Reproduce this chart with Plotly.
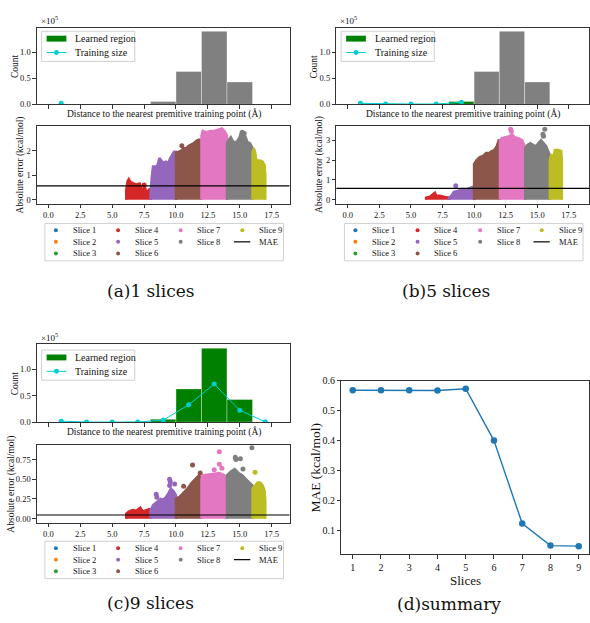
import plotly.graph_objects as go

W, H = 590, 623
SERIF = "Liberation Serif, Times New Roman, serif"
CAPTION_FONT = "DejaVu Serif, serif"
INK = "#111111"
SPINE = "#333333"

# ---------------- data ----------------
SLICE_NAMES = ["Slice 1", "Slice 2", "Slice 3", "Slice 4", "Slice 5",
               "Slice 6", "Slice 7", "Slice 8", "Slice 9"]
SLICE_COLORS = ["#1f77b4", "#ff7f0e", "#2ca02c", "#d62728", "#9467bd",
                "#8c564b", "#e377c2", "#7f7f7f", "#bcbd22"]

# summary: MAE of each model trained on the first k slices
SLICES = [1, 2, 3, 4, 5, 6, 7, 8, 9]
MAE = [0.569, 0.569, 0.569, 0.568, 0.574, 0.400, 0.122, 0.048, 0.046]

# distance histogram (bins of 2 Å, one per slice)
BIN_CENTERS = [1, 3, 5, 7, 9, 11, 13, 15, 17]
BIN_WIDTH = 2
BIN_COUNTS = [0, 0, 0, 600, 5600, 63000, 140000, 43000, 0]

# training-set size per slice for the 1-, 5- and 9-slice models
TRAIN_SIZE_1 = [2000]
TRAIN_SIZE_5 = [2000, 700, 700, 700, 4000]
TRAIN_SIZE_9 = [2000, 300, 300, 300, 4000, 33000, 72000, 22500, 700]

X_TICKS = [0.0, 2.5, 5.0, 7.5, 10.0, 12.5, 15.0, 17.5]

# upper envelope (distance, absolute error) of each slice's error cloud
ERR_TOP_1 = {
    4: [(6.1, 0.4), (6.2, 0.75), (6.3, 0.84), (6.45, 0.72), (6.65, 0.66), (6.9, 0.62),
        (7.15, 0.66), (7.3, 0.45), (7.4, 0.25), (7.5, 0.55), (7.6, 0.45), (7.7, 0.2),
        (7.8, 0.35), (7.95, 0.45), (8.05, 0.3)],
    5: [(8.0, 0.2), (8.1, 0.9), (8.2, 1.35), (8.4, 1.35), (8.55, 1.4), (8.7, 1.7),
        (8.85, 1.6), (9.0, 1.5), (9.2, 1.55), (9.4, 1.5), (9.55, 1.7), (9.7, 1.8),
        (9.85, 1.95), (10.0, 1.95)],
    6: [(10.0, 1.9), (10.2, 1.95), (10.4, 2.0), (10.6, 2.1), (10.8, 2.1), (11.0, 2.2),
        (11.2, 2.25), (11.4, 2.3), (11.6, 2.4), (11.8, 2.45), (12.0, 2.4)],
    7: [(12.0, 2.6), (12.1, 2.8), (12.4, 2.75), (12.7, 2.8), (13.0, 2.8), (13.3, 2.85),
        (13.6, 2.9), (13.8, 2.8), (14.0, 2.6)],
    8: [(14.0, 2.3), (14.15, 2.45), (14.3, 2.55), (14.5, 2.35), (14.75, 2.35), (14.95, 2.5),
        (15.1, 2.75), (15.3, 2.75), (15.45, 2.5), (15.6, 2.35), (15.8, 2.3), (16.0, 2.1)],
    9: [(16.0, 1.9), (16.1, 2.1), (16.2, 1.95), (16.3, 1.6), (16.6, 1.6), (16.8, 1.55),
        (16.95, 1.4), (17.0, 1.0)],
}
ERR_TOP_5 = {
    4: [(6.2, 0.1), (6.5, 0.15), (6.8, 0.3), (6.9, 0.35), (7.0, 0.2), (7.3, 0.2),
        (7.6, 0.15), (7.9, 0.12), (8.05, 0.1)],
    5: [(8.0, 0.1), (8.2, 0.2), (8.4, 0.4), (8.7, 0.45), (8.9, 0.5), (9.1, 0.55),
        (9.3, 0.45), (9.5, 0.55), (9.7, 0.6), (9.9, 0.65), (10.0, 0.4)],
    6: [(10.0, 1.8), (10.2, 2.0), (10.45, 2.15), (10.7, 2.2), (10.95, 2.35), (11.2, 2.35),
        (11.4, 2.45), (11.6, 2.5), (11.8, 2.7), (11.95, 3.0), (12.05, 3.0)],
    7: [(12.05, 3.0), (12.2, 3.1), (12.5, 3.15), (12.8, 3.2), (13.0, 3.3), (13.2, 3.15),
        (13.5, 3.1), (13.8, 3.0), (14.0, 2.7)],
    8: [(14.05, 2.6), (14.2, 2.75), (14.45, 2.85), (14.7, 2.75), (14.9, 2.7), (15.1, 2.85),
        (15.3, 3.0), (15.5, 2.85), (15.7, 2.7), (15.9, 2.4), (16.0, 2.2)],
    9: [(16.0, 2.0), (16.1, 2.25), (16.3, 2.2), (16.4, 2.5), (16.7, 2.5), (16.9, 2.45),
        (16.95, 2.0)],
}
ERR_TOP_9 = {
    4: [(6.1, 0.06), (6.3, 0.09), (6.6, 0.11), (6.9, 0.1), (7.2, 0.14), (7.4, 0.09),
        (7.6, 0.1), (7.9, 0.12), (8.05, 0.1)],
    5: [(8.0, 0.1), (8.2, 0.17), (8.4, 0.2), (8.6, 0.22), (8.8, 0.25), (9.0, 0.24),
        (9.2, 0.27), (9.4, 0.32), (9.6, 0.38), (9.8, 0.35), (10.0, 0.3)],
    6: [(10.0, 0.25), (10.3, 0.28), (10.6, 0.33), (10.9, 0.38), (11.2, 0.45), (11.5, 0.5),
        (11.8, 0.55), (12.0, 0.5)],
    7: [(12.0, 0.5), (12.1, 0.55), (12.5, 0.56), (13.0, 0.57), (13.4, 0.58), (13.8, 0.55),
        (14.0, 0.5)],
    8: [(14.0, 0.55), (14.3, 0.6), (14.6, 0.63), (14.9, 0.58), (15.2, 0.55), (15.5, 0.5),
        (15.8, 0.45), (16.0, 0.42)],
    9: [(16.0, 0.38), (16.2, 0.42), (16.4, 0.46), (16.6, 0.46), (16.8, 0.42), (16.95, 0.35),
        (17.0, 0.2)],
}

# isolated large-error points above the clouds
ERR_OUT_1 = {4: [(7.5, 0.6)], 6: [(10.46, 2.2)], 8: [(15.2, 2.75), (15.35, 2.7)]}
ERR_OUT_5 = {5: [(8.55, 0.7)], 7: [(12.9, 3.55), (12.95, 3.45)],
             8: [(15.5, 3.2), (15.6, 3.55), (15.45, 3.3)]}
ERR_OUT_9 = {5: [(8.45, 0.31), (8.5, 0.27), (9.5, 0.5), (9.55, 0.47), (9.5, 0.42), (9.9, 0.44)],
             6: [(11.3, 0.68), (10.6, 0.41), (11.9, 0.58)],
             7: [(13.4, 0.85), (13.4, 0.69), (13.6, 0.64), (13.0, 0.62)],
             8: [(14.65, 0.78), (14.7, 0.75), (15.05, 0.76), (15.95, 0.9), (15.25, 0.63)],
             9: [(16.2, 0.59)]}


# ---------------- helpers ----------------
def px(x):
    return x / W


def py(y):
    return 1 - y / H


def ann(text, x, y, size, angle=0, xanchor="center", family=SERIF):
    return dict(text=text, x=px(x), y=py(y), xref="paper", yref="paper",
                showarrow=False, textangle=angle, xanchor=xanchor, yanchor="middle",
                font=dict(family=family, size=size, color=INK))


def axis_style(**kw):
    d = dict(showline=True, mirror=True, linecolor=SPINE, linewidth=1,
             ticks="outside", ticklen=3.5, tickwidth=1, tickcolor=SPINE,
             showgrid=False, zeroline=False,
             tickfont=dict(family=SERIF, size=8.5, color=INK))
    d.update(kw)
    return d


fig = go.Figure()
shapes = []
annotations = []
layout_axes = {}

# panel geometry in pixels
PANELS = [
    dict(n=1, train=TRAIN_SIZE_1, env=ERR_TOP_1, out=ERR_OUT_1, ax=(1, 2),
         x0=37, x1=290, hy=(23, 101), sy=(123, 202), xr=18.9, yr=[-0.16, 3.0],
         yticks=[0, 1, 2], yfmt="{:.0f}", ylab_x=20.7, dx=0, dy=0),
    dict(n=5, train=TRAIN_SIZE_5, env=ERR_TOP_5, out=ERR_OUT_5, ax=(3, 4),
         x0=337, x1=590, hy=(23, 101), sy=(123, 202), xr=19.1, yr=[-0.2, 3.71],
         yticks=[0, 1, 2, 3], yfmt="{:.0f}", ylab_x=320.7, dx=300, dy=0),
    dict(n=9, train=TRAIN_SIZE_9, env=ERR_TOP_9, out=ERR_OUT_9, ax=(5, 6),
         x0=37, x1=290, hy=(345, 424), sy=(447, 526), xr=18.9, yr=[-0.05, 0.9375],
         yticks=[0, 0.25, 0.5, 0.75], yfmt="{:.2f}", ylab_x=12, dx=0, dy=323),
]

for p in PANELS:
    ha, sa = p["ax"]
    hx, hy_ = f"x{ha}", f"y{ha}"
    sx, sy_ = f"x{sa}", f"y{sa}"
    n = p["n"]

    # histogram: learned bins in green, remaining bins in gray
    bar_colors = ["green" if i < n else "gray" for i in range(len(BIN_CENTERS))]
    fig.add_trace(go.Bar(x=BIN_CENTERS, y=BIN_COUNTS, width=BIN_WIDTH,
                         marker=dict(color=bar_colors,
                                     line=dict(color="rgba(255,255,255,0.45)", width=0.8)),
                         xaxis=hx, yaxis=hy_, showlegend=False))
    fig.add_trace(go.Scatter(x=BIN_CENTERS[:len(p["train"])], y=p["train"],
                             mode="lines+markers",
                             line=dict(color="#00CED1", width=1),
                             marker=dict(color="#00CED1", size=5),
                             xaxis=hx, yaxis=hy_, showlegend=False))

    # error clouds per slice
    for s, pts in p["env"].items():
        col = SLICE_COLORS[s - 1]
        xs = [pts[0][0]] + [q[0] for q in pts] + [pts[-1][0]]
        ys = [0] + [q[1] for q in pts] + [0]
        fig.add_trace(go.Scatter(x=xs, y=ys, mode="lines", fill="toself",
                                 fillcolor=col, line=dict(color=col, width=2.5),
                                 xaxis=sx, yaxis=sy_, showlegend=False))
    for s, pts in p["out"].items():
        col = SLICE_COLORS[s - 1]
        fig.add_trace(go.Scatter(x=[q[0] for q in pts], y=[q[1] for q in pts],
                                 mode="markers", marker=dict(color=col, size=5),
                                 xaxis=sx, yaxis=sy_, showlegend=False))

    # MAE reference line
    shapes.append(dict(type="line", xref=f"{sx} domain", x0=0, x1=1,
                       yref=sy_, y0=MAE[n - 1], y1=MAE[n - 1],
                       line=dict(color="black", width=1.2)))

    xdom = [px(p["x0"]), min(1.0, px(p["x1"]))]
    layout_axes[f"xaxis{ha}"] = axis_style(domain=xdom, range=[-0.9, p["xr"]],
                                           anchor=hy_, tickvals=X_TICKS,
                                           showticklabels=False)
    layout_axes[f"yaxis{ha}"] = axis_style(domain=[py(p["hy"][1]), py(p["hy"][0])],
                                           range=[0, 147000], anchor=hx,
                                           tickvals=[0, 50000, 100000],
                                           ticktext=["0.0", "0.5", "1.0"])
    layout_axes[f"xaxis{sa}"] = axis_style(domain=xdom, range=[-0.9, p["xr"]],
                                           anchor=sy_, tickvals=X_TICKS,
                                           ticktext=[f"{v:.1f}" for v in X_TICKS])
    layout_axes[f"yaxis{sa}"] = axis_style(domain=[py(p["sy"][1]), py(p["sy"][0])],
                                           range=p["yr"], anchor=sx,
                                           tickvals=p["yticks"],
                                           ticktext=[p["yfmt"].format(v) for v in p["yticks"]])

    # axis titles and offset text
    annotations.append(ann("×10<sup>5</sup>", p["x0"] + 2, p["hy"][0] - 8, 9, xanchor="left"))
    annotations.append(ann("Count", p["dx"] + 15, (p["hy"][0] + p["hy"][1]) / 2, 9.5, angle=-90))
    annotations.append(ann("Distance to the nearest premitive training point (Å)",
                           p["dx"] + 164, p["hy"][1] + 10, 9.5))
    annotations.append(ann("Absolute error (kcal/mol)", p["ylab_x"],
                           (p["sy"][0] + p["sy"][1]) / 2, 9.5, angle=-90))

    # histogram legend (upper left)
    dx, dy = p["dx"], p["dy"] + (1 if n == 9 else 0)
    shapes.append(dict(type="rect", xref="paper", yref="paper",
                       x0=px(dx + 41.7), x1=px(dx + 135), y0=py(dy + 57.3), y1=py(dy + 26.7),
                       line=dict(color="#d0d0d0", width=1), fillcolor="rgba(255,255,255,0.8)"))
    shapes.append(dict(type="rect", xref="paper", yref="paper",
                       x0=px(dx + 46.7), x1=px(dx + 66.5), y0=py(dy + 37.2), y1=py(dy + 31.2),
                       line=dict(width=0), fillcolor="green"))
    shapes.append(dict(type="line", xref="paper", yref="paper",
                       x0=px(dx + 46.7), x1=px(dx + 66.5), y0=py(dy + 48.3), y1=py(dy + 48.3),
                       line=dict(color="#00CED1", width=1)))
    shapes.append(dict(type="circle", xref="paper", yref="paper",
                       x0=px(dx + 56.6 - 2.5), x1=px(dx + 56.6 + 2.5),
                       y0=py(dy + 48.3 + 2.5), y1=py(dy + 48.3 - 2.5),
                       line=dict(width=0), fillcolor="#00CED1"))
    annotations.append(ann("Learned region", dx + 73.3, dy + 34.3, 10, xanchor="left"))
    annotations.append(ann("Training size", dx + 73.3, dy + 48.3, 10, xanchor="left"))

    # slice legend below the scatter (column-major, 4 columns)
    ly = p["dy"]
    shapes.append(dict(type="rect", xref="paper", yref="paper",
                       x0=px(dx + 45), x1=px(dx + 284), y0=py(ly + 260), y1=py(ly + 222),
                       line=dict(color="#d0d0d0", width=1), fillcolor="white"))
    col_marker_x = [56, 118.3, 181, 242.7]
    col_text_x = [70.7, 133, 195.7, 257.7]
    row_y = [229, 240.7, 252.5]
    columns = [[0, 1, 2], [3, 4, 5], [6, 7], [8, "MAE"]]
    for ci, col_items in enumerate(columns):
        for ri, item in enumerate(col_items):
            cx, cy = dx + col_marker_x[ci], ly + row_y[ri]
            if item == "MAE":
                shapes.append(dict(type="line", xref="paper", yref="paper",
                                   x0=px(dx + 234.3), x1=px(dx + 250.7), y0=py(cy), y1=py(cy),
                                   line=dict(color="black", width=1.2)))
                label = "MAE"
            else:
                shapes.append(dict(type="circle", xref="paper", yref="paper",
                                   x0=px(cx - 2), x1=px(cx + 2), y0=py(cy + 2), y1=py(cy - 2),
                                   line=dict(width=0), fillcolor=SLICE_COLORS[item]))
                label = SLICE_NAMES[item]
            annotations.append(ann(label, dx + col_text_x[ci], cy, 8.5, xanchor="left"))

# ---------------- summary panel ----------------
fig.add_trace(go.Scatter(x=SLICES, y=MAE, mode="lines+markers",
                         line=dict(color="#1f77b4", width=1.4),
                         marker=dict(color="#1f77b4", size=6.5),
                         xaxis="x7", yaxis="y7", showlegend=False))
layout_axes["xaxis7"] = axis_style(domain=[px(342), 1.0], range=[0.6, 9.364], anchor="y7",
                                   tickvals=SLICES, tickfont=dict(family=SERIF, size=10, color=INK))
layout_axes["yaxis7"] = axis_style(domain=[py(558), py(382)], range=[0.0196, 0.6004], anchor="x7",
                                   tickvals=[0.1, 0.2, 0.3, 0.4, 0.5, 0.6], tickformat=".1f",
                                   tickfont=dict(family=SERIF, size=10, color=INK))
annotations.append(ann("MAE (kcal/mol)", 315.7, 470, 13.5, angle=-90))
annotations.append(ann("Slices", 466.7, 585, 13))

# ---------------- captions ----------------
annotations.append(ann("(a)1 slices", 151, 291, 17, family=CAPTION_FONT))
annotations.append(ann("(b)5 slices", 447, 291, 17, family=CAPTION_FONT))
annotations.append(ann("(c)9 slices", 151, 608, 17, family=CAPTION_FONT))
annotations.append(ann("(d)summary", 450, 609, 17, family=CAPTION_FONT))

fig.update_layout(width=W, height=H, margin=dict(l=0, r=0, t=0, b=0),
                  paper_bgcolor="white", plot_bgcolor="white",
                  showlegend=False, barmode="overlay",
                  shapes=shapes, annotations=annotations, **layout_axes)

fig.write_html("out.html")
